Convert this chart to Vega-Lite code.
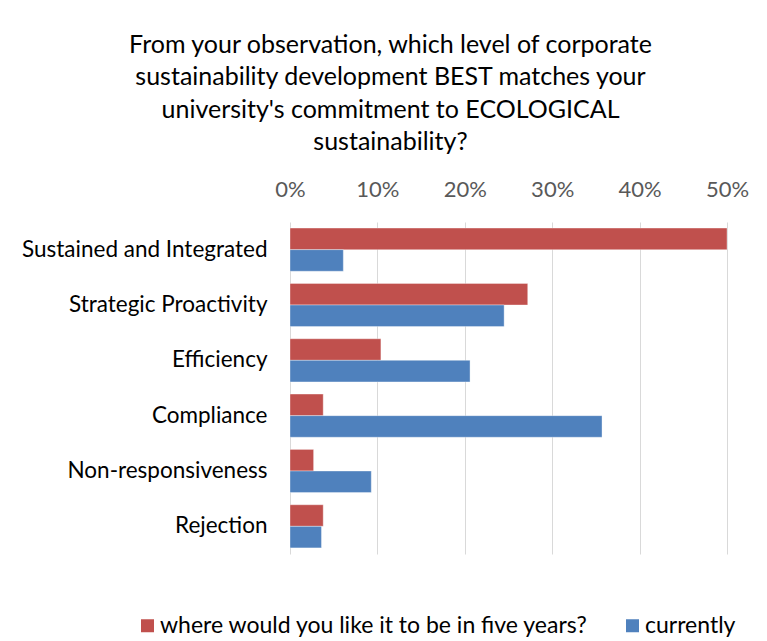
{
  "$schema": "https://vega.github.io/schema/vega-lite/v6.json",
  "autosize": "none",
  "width": 437,
  "height": 332,
  "padding": {"left": 290, "top": 222, "right": 40, "bottom": 87},
  "background": "white",
  "title": {
    "text": ["From your observation, which level of corporate", "sustainability development BEST matches your", "university's commitment to ECOLOGICAL", "sustainability?"],
    "font": "Lato",
    "fontSize": 25,
    "fontWeight": "normal",
    "color": "#000000",
    "lineHeight": 32.5,
    "anchor": "middle",
    "dx": -118,
    "offset": 23
  },
  "data": {
    "values": [
      {"category": "Sustained and Integrated", "series": "where would you like it to be in five years?", "value": 0.50},
      {"category": "Sustained and Integrated", "series": "currently", "value": 0.061},
      {"category": "Strategic Proactivity", "series": "where would you like it to be in five years?", "value": 0.272},
      {"category": "Strategic Proactivity", "series": "currently", "value": 0.245},
      {"category": "Efficiency", "series": "where would you like it to be in five years?", "value": 0.104},
      {"category": "Efficiency", "series": "currently", "value": 0.206},
      {"category": "Compliance", "series": "where would you like it to be in five years?", "value": 0.038},
      {"category": "Compliance", "series": "currently", "value": 0.357},
      {"category": "Non-responsiveness", "series": "where would you like it to be in five years?", "value": 0.027},
      {"category": "Non-responsiveness", "series": "currently", "value": 0.093},
      {"category": "Rejection", "series": "where would you like it to be in five years?", "value": 0.038},
      {"category": "Rejection", "series": "currently", "value": 0.036}
    ]
  },
  "mark": {"type": "bar", "stroke": "#ffffff", "strokeWidth": 0.6, "strokeOpacity": 0.6},
  "encoding": {
    "y": {
      "field": "category",
      "type": "nominal",
      "sort": ["Sustained and Integrated", "Strategic Proactivity", "Efficiency", "Compliance", "Non-responsiveness", "Rejection"],
      "scale": {"paddingInner": 0.22, "paddingOuter": 0.11},
      "axis": {
        "title": null,
        "ticks": false,
        "domain": false,
        "labelFont": "Lato",
        "labelFontSize": 22.5,
        "labelColor": "#000000",
        "labelPadding": 23,
        "labelLimit": 400
      }
    },
    "yOffset": {
      "field": "series",
      "type": "nominal",
      "sort": ["where would you like it to be in five years?", "currently"],
      "scale": {"paddingInner": 0, "paddingOuter": 0}
    },
    "x": {
      "field": "value",
      "type": "quantitative",
      "scale": {"domain": [0, 0.5], "nice": false},
      "axis": {
        "orient": "top",
        "title": null,
        "format": ".0%",
        "values": [0, 0.1, 0.2, 0.3, 0.4, 0.5],
        "ticks": false,
        "domain": false,
        "grid": true,
        "gridColor": "#D9D9D9",
        "gridWidth": 1,
        "labelFlush": false,
        "labelFont": "Lato",
        "labelFontSize": 22,
        "labelColor": "#595959",
        "labelPadding": 21
      }
    },
    "color": {
      "field": "series",
      "type": "nominal",
      "scale": {
        "domain": ["where would you like it to be in five years?", "currently"],
        "range": ["#C0504D", "#4F81BD"]
      },
      "legend": {
        "title": null,
        "orient": "none",
        "direction": "horizontal",
        "legendX": -154,
        "legendY": 392,
        "symbolType": "square",
        "symbolSize": 169,
        "symbolStrokeWidth": 0,
        "labelFont": "Lato",
        "labelFontSize": 23,
        "labelColor": "#000000",
        "labelOffset": 1,
        "labelLimit": 500,
        "columnPadding": 32
      }
    }
  },
  "config": {"view": {"stroke": null}}
}
